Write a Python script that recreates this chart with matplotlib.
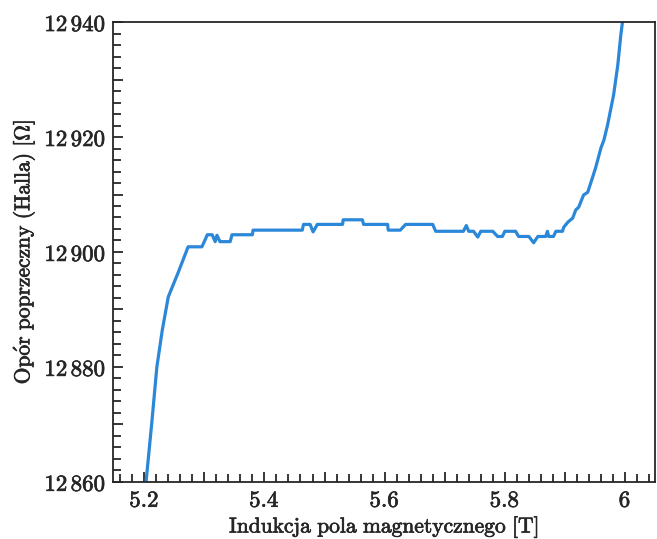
import matplotlib
matplotlib.use('Agg')
import matplotlib.pyplot as plt
import matplotlib.patheffects as pe
import numpy as np
from matplotlib.ticker import FixedLocator, FuncFormatter

plt.rcParams['mathtext.fontset'] = 'cm'

# readings: B [T], R [Ohm]
b = [5.203, 5.213, 5.221, 5.230, 5.240, 5.256, 5.273, 5.296, 5.305, 5.313,
     5.318, 5.321, 5.326, 5.343, 5.346, 5.380, 5.381, 5.463, 5.465, 5.476,
     5.481, 5.488, 5.530, 5.531, 5.563, 5.565, 5.605, 5.606, 5.626, 5.635,
     5.680, 5.685, 5.731, 5.736, 5.740, 5.748, 5.755, 5.760, 5.780, 5.788,
     5.796, 5.800, 5.818, 5.823, 5.840, 5.848, 5.855, 5.868, 5.871, 5.873,
     5.881, 5.885, 5.896, 5.898, 5.905, 5.913, 5.918, 5.923, 5.931, 5.938,
     5.943, 5.951, 5.960, 5.965, 5.971, 5.976, 5.981, 5.988, 5.993, 5.997]
r = [12860.0, 12870.8, 12880.0, 12886.4, 12892.2, 12896.3, 12900.9, 12900.9, 12903.0, 12903.0,
     12901.8, 12902.9, 12901.8, 12901.8, 12903.0, 12903.0, 12903.8, 12903.8, 12904.8, 12904.8,
     12903.5, 12904.8, 12904.8, 12905.6, 12905.6, 12904.8, 12904.8, 12903.8, 12903.8, 12904.8,
     12904.8, 12903.6, 12903.6, 12904.6, 12903.6, 12903.6, 12902.6, 12903.6, 12903.6, 12902.7,
     12902.7, 12903.6, 12903.6, 12902.7, 12902.7, 12901.6, 12902.7, 12902.7, 12903.6, 12902.7,
     12902.7, 12903.6, 12903.6, 12904.3, 12905.2, 12905.9, 12907.3, 12907.8, 12909.9, 12910.4,
     12912.0, 12914.6, 12918.1, 12919.5, 12922.1, 12924.7, 12927.3, 12932.5, 12937.7, 12941.0]

xticks = [5.2, 5.4, 5.6, 5.8, 6.0]
yticks = [12860, 12880, 12900, 12920, 12940]

ink = '#262626'
bold = [pe.withStroke(linewidth=0.5, foreground=ink)]

fig = plt.figure(figsize=(6.57, 5.39), dpi=100)
ax = fig.add_axes([0.172, 0.106, 0.825, 0.853])

ax.plot(b, r, color='#2b87d8', lw=2.3, solid_joinstyle='round')

ax.set_xlim(5.148, 6.05)
ax.set_ylim(12860, 12940)

# major ticks every 0.1 / 10, labels only on every second one
ax.xaxis.set_major_locator(FixedLocator(np.arange(5.2, 6.01, 0.1)))
ax.xaxis.set_minor_locator(FixedLocator(np.arange(5.16, 6.05, 0.02)))
ax.yaxis.set_major_locator(FixedLocator(np.arange(12860, 12941, 10)))
ax.yaxis.set_minor_locator(FixedLocator(np.arange(12860, 12941, 2)))

def xfmt(v, pos):
    if min(abs(v - t) for t in xticks) > 1e-6:
        return ''
    return r'$\mathrm{%g}$' % v

def yfmt(v, pos):
    iv = int(round(v))
    if iv not in yticks:
        return ''
    s = str(iv)
    return r'$\mathrm{%s\,%s}$' % (s[:2], s[2:])

ax.xaxis.set_major_formatter(FuncFormatter(xfmt))
ax.yaxis.set_major_formatter(FuncFormatter(yfmt))

ax.tick_params(which='both', direction='in', top=False, right=False,
               color=ink, width=1.3, labelcolor=ink, labelsize=16.5)
ax.tick_params(axis='x', which='major', length=9, pad=5)
ax.tick_params(axis='y', which='major', length=9, pad=5)
ax.tick_params(which='minor', length=5.5)

for t in ax.xaxis.get_major_ticks() + ax.yaxis.get_major_ticks():
    if t.label1.get_text() == '':
        t.tick1line.set_markersize(7)
for lab in ax.get_xticklabels() + ax.get_yticklabels():
    lab.set_path_effects(bold)

for sp in ax.spines.values():
    sp.set_color(ink)
    sp.set_linewidth(1.3)

xl = ax.set_xlabel(r'$\mathrm{Indukcja\ pola\ magnetycznego\ [T]}$', fontsize=15.5,
                   color=ink, labelpad=2)
yl = ax.set_ylabel(r'$\mathrm{Op\acute{o}r\ poprzeczny\ (Halla)\ [\Omega]}$', fontsize=15.5,
                   color=ink, labelpad=5)
xl.set_path_effects(bold)
yl.set_path_effects(bold)

fig.savefig('out.png', dpi=100)
